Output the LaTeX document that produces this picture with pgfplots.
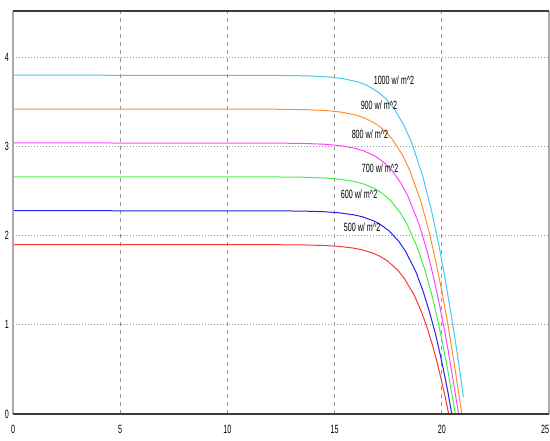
\documentclass[border=0pt]{standalone}
\usepackage{pgfplots}
\pgfplotsset{compat=1.18}
\usepackage{pgfplotstable}
\usepackage{fontspec}
\setmainfont{Liberation Sans}[FakeStretch=0.6]

\definecolor{cCyan}{RGB}{70,200,245}
\definecolor{cOrange}{RGB}{255,145,45}
\definecolor{cMagenta}{RGB}{255,70,255}
\definecolor{cGreen}{RGB}{70,240,70}
\definecolor{cBlue}{RGB}{35,35,235}
\definecolor{cRed}{RGB}{255,55,55}
\definecolor{gridgray}{RGB}{150,150,150}
\definecolor{framedark}{RGB}{60,60,60}
\definecolor{framelight}{RGB}{170,170,170}

% I-V curves of the module, voltage V, current I
\pgfplotstableread{
V I
0 3.800
12.38 3.798
13.77 3.792
14.69 3.781
15.39 3.762
16.09 3.724
16.51 3.686
17.04 3.610
17.40 3.534
17.79 3.420
18.25 3.230
18.60 3.040
19.12 2.660
19.52 2.280
19.86 1.900
20.15 1.520
20.42 1.140
20.67 0.760
20.90 0.380
21.01 0.190
}\gOneThousand

\pgfplotstableread{
V I
0 3.420
12.30 3.418
13.69 3.413
14.61 3.403
15.31 3.386
16.01 3.352
16.43 3.317
16.96 3.249
17.32 3.181
17.70 3.078
18.16 2.907
18.50 2.736
19.01 2.394
19.40 2.052
19.72 1.710
20.01 1.368
20.27 1.026
20.50 0.684
20.72 0.342
20.83 0.171
20.93 0.000
}\gNineHundred

\pgfplotstableread{
V I
0 3.040
12.27 3.0385
13.66 3.034
14.57 3.025
15.27 3.010
15.97 2.979
16.39 2.949
16.92 2.888
17.27 2.827
17.66 2.736
18.11 2.584
18.44 2.432
18.94 2.128
19.32 1.824
19.63 1.520
19.90 1.216
20.15 0.912
20.37 0.608
20.58 0.304
20.68 0.152
20.78 0.000
}\gEightHundred

\pgfplotstableread{
V I
0 2.660
12.23 2.6587
13.62 2.655
14.54 2.647
15.23 2.633
15.94 2.607
16.35 2.580
16.88 2.527
17.23 2.474
17.61 2.394
18.05 2.261
18.38 2.128
18.87 1.862
19.24 1.596
19.54 1.330
19.80 1.064
20.03 0.798
20.25 0.532
20.44 0.266
20.54 0.133
20.63 0.000
}\gSevenHundred

\pgfplotstableread{
V I
0 2.280
12.19 2.2789
13.57 2.2754
14.49 2.269
15.19 2.257
15.89 2.234
16.30 2.212
16.82 2.166
17.17 2.120
17.55 2.052
17.99 1.938
18.31 1.824
18.79 1.596
19.14 1.368
19.43 1.140
19.69 0.912
19.91 0.684
20.11 0.456
20.30 0.228
20.38 0.114
20.47 0.000
}\gSixHundred

\pgfplotstableread{
V I
0 1.900
12.15 1.899
13.54 1.8962
14.45 1.8905
15.15 1.881
15.85 1.862
16.26 1.843
16.78 1.805
17.13 1.767
17.50 1.710
17.94 1.615
18.25 1.520
18.72 1.330
19.06 1.140
19.34 0.950
19.58 0.760
19.79 0.570
19.98 0.380
20.16 0.190
20.24 0.095
20.32 0.000
}\gFiveHundred

\begin{document}
\begin{tikzpicture}
\useasboundingbox (-13bp,-27bp) rectangle (537bp,414bp);
\begin{axis}[
  scale only axis,
  width=536bp, height=403bp,
  xmin=0, xmax=25, ymin=0, ymax=4.52,
  xtick={0,5,...,25}, ytick={0,1,...,4},
  xticklabels={0,5,10,15,20,\hbox to 0pt{\hss 25}},
  axis line style={draw=none},
  tick style={draw=none},
  grid=major,
  x grid style={gridgray, line width=0.8bp, dash pattern=on 4bp off 4bp},
  y grid style={gridgray, line width=0.8bp, dash pattern=on 1bp off 2bp},
  ticklabel style={font=\fontsize{12}{12}\selectfont, text=black},
  xticklabel style={yshift=-8bp},
  yticklabel style={inner sep=0pt, xshift=-4bp},
  /pgf/number format/assume math mode=true,
  clip=false,
]
\addplot[cCyan, line width=1bp] table[x=V, y=I] {\gOneThousand};
\addplot[cOrange, line width=1bp] table[x=V, y=I] {\gNineHundred};
\addplot[cMagenta, line width=1bp] table[x=V, y=I] {\gEightHundred};
\addplot[cGreen, line width=1bp] table[x=V, y=I] {\gSevenHundred};
\addplot[cBlue, line width=1bp] table[x=V, y=I] {\gSixHundred};
\addplot[cRed, line width=1bp] table[x=V, y=I] {\gFiveHundred};

\begin{scope}[every node/.style={font=\fontsize{12}{12}\selectfont, text=black, inner sep=0pt}]
\node at (axis cs:17.77,3.74) {1000 w/ m\textasciicircum 2};
\node at (axis cs:17.07,3.46) {900 w/ m\textasciicircum 2};
\node at (axis cs:16.65,3.14) {800 w/ m\textasciicircum 2};
\node at (axis cs:17.12,2.76) {700 w/ m\textasciicircum 2};
\node at (axis cs:16.14,2.46) {600 w/ m\textasciicircum 2};
\node at (axis cs:16.28,2.09) {500 w/ m\textasciicircum 2};
\end{scope}

% plot frame
\draw[framelight, line width=1.5bp] (rel axis cs:0,0) -- (rel axis cs:0,1);
\draw[framelight, line width=1.5bp] (rel axis cs:1,0) -- (rel axis cs:1,1);
\draw[framedark, line width=1.8bp] (rel axis cs:0,0) -- (rel axis cs:1,0);
\draw[framedark, line width=1.8bp] (rel axis cs:0,1) -- (rel axis cs:1,1);
\end{axis}
\end{tikzpicture}
\end{document}
